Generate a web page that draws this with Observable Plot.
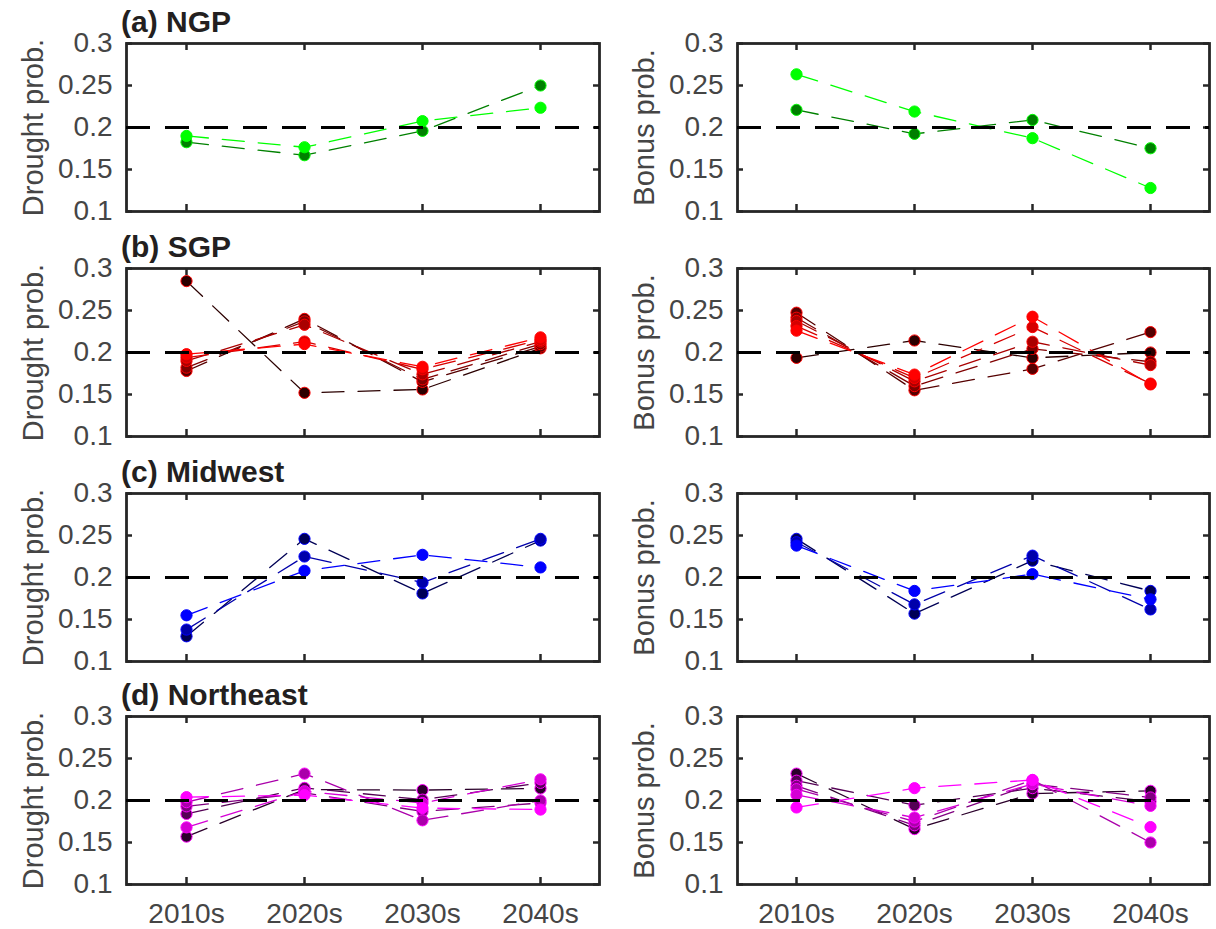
<!DOCTYPE html>
<html>
<head>
<meta charset="utf-8">
<script src="https://cdn.jsdelivr.net/npm/d3@7"></script>
<script src="https://cdn.jsdelivr.net/npm/@observablehq/plot@0.6"></script>
<style>
  html, body { margin: 0; padding: 0; background: #fff; }
  #chart { position: relative; width: 1216px; height: 929px; overflow: hidden; font-family: "Liberation Sans", Arial, Helvetica, sans-serif; }
  .panel { position: absolute; }
  .title { position: absolute; font-weight: bold; font-size: 30px; line-height: 30px; color: #231f20; white-space: nowrap; }
</style>
</head>
<body>
<div id="chart"></div>
<script>
// ---- data ----
const decades = ["2010s", "2020s", "2030s", "2040s"];
const yTicks = [0.1, 0.15, 0.2, 0.25, 0.3];
const yTickLabels = ["0.1", "0.15", "0.2", "0.25", "0.3"];
const regionTitles = ["(a) NGP", "(b) SGP", "(c) Midwest", "(d) Northeast"];
const columnLabels = ["Drought prob.", "Bonus prob."];
const referenceLevel = 0.2;

const ngpDrought = [
  [0.1825, 0.167, 0.196, 0.250],
  [0.190, 0.1765, 0.2076, 0.2235]
];
const ngpBonus = [
  [0.221, 0.1924, 0.209, 0.1753],
  [0.2633, 0.219, 0.1873, 0.128]
];
const sgpDrought = [
  [0.285, 0.152, 0.156, 0.205],
  [0.178, 0.240, 0.165, 0.207],
  [0.182, 0.237, 0.168, 0.210],
  [0.190, 0.233, 0.174, 0.213],
  [0.194, 0.213, 0.180, 0.215],
  [0.198, 0.210, 0.183, 0.218]
];
const sgpBonus = [
  [0.1936, 0.2143, 0.1936, 0.200],
  [0.2474, 0.155, 0.1805, 0.2243],
  [0.2414, 0.160, 0.2044, 0.189],
  [0.2375, 0.1657, 0.2128, 0.185],
  [0.2315, 0.1697, 0.2303, 0.163],
  [0.226, 0.1737, 0.2426, 0.162]
];
const midwestDrought = [
  [0.130, 0.246, 0.181, 0.244],
  [0.138, 0.225, 0.194, 0.246],
  [0.155, 0.208, 0.227, 0.212]
];
const midwestBonus = [
  [0.246, 0.157, 0.220, 0.184],
  [0.242, 0.168, 0.226, 0.162],
  [0.238, 0.184, 0.204, 0.174]
];
const northeastDrought = [
  [0.157, 0.213, 0.2124, 0.2144],
  [0.184, 0.215, 0.201, 0.221],
  [0.193, 0.209, 0.187, 0.197],
  [0.198, 0.232, 0.1764, 0.200],
  [0.168, 0.211, 0.197, 0.2252],
  [0.204, 0.2064, 0.191, 0.1892]
];
const northeastBonus = [
  [0.232, 0.166, 0.2083, 0.2115],
  [0.2236, 0.1944, 0.2147, 0.1988],
  [0.2175, 0.1705, 0.2196, 0.2036],
  [0.2135, 0.175, 0.2244, 0.150],
  [0.2067, 0.1797, 0.2196, 0.1936],
  [0.1917, 0.2147, 0.2244, 0.1684]
];

// ---- styling / layout ----
const regionHues = [[0, 255, 0], [255, 0, 0], [0, 0, 255], [255, 0, 255]];
const panelData = [
  [ngpDrought, ngpBonus],
  [sgpDrought, sgpBonus],
  [midwestDrought, midwestBonus],
  [northeastDrought, northeastBonus]
];
const boxTops = [43, 268, 493, 716];
const boxH = 168;
const font = '"Liberation Sans", Arial, Helvetica, sans-serif';
const axisColor = "#262626";
const textColor = "#454545";
const colGeom = [
  {left: 0, width: 608, marginLeft: 126, marginRight: 9},
  {left: 608, width: 608, marginLeft: 129, marginRight: 7}
];

function seriesColor(hue, i, n) {
  const f = (i + 1) / n;
  return `rgb(${Math.round(hue[0] * f)},${Math.round(hue[1] * f)},${Math.round(hue[2] * f)})`;
}

const chart = document.getElementById("chart");

panelData.forEach((row, r) => {
  const hue = regionHues[r];
  const hueStr = `rgb(${hue[0]},${hue[1]},${hue[2]})`;
  const isBottom = r === panelData.length - 1;
  row.forEach((series, c) => {
    const g = colGeom[c];
    const n = series.length;
    const rows = [];
    series.forEach((vals, s) => vals.forEach((v, k) => rows.push({decade: decades[k], value: v, series: s, color: seriesColor(hue, s, n)})));
    const marginTop = 14;
    const marginBottom = isBottom ? 45 : 14;
    const boxW = g.width - g.marginLeft - g.marginRight;
    const marks = [
      Plot.frame({stroke: axisColor, strokeWidth: 2.8}),
      Plot.tickX(decades, {x: d => d, insetTop: boxH - 7, stroke: axisColor, strokeWidth: 2.5}),
      Plot.tickX(decades, {x: d => d, insetBottom: boxH - 7, stroke: axisColor, strokeWidth: 2.5}),
      Plot.tickY(yTicks, {y: d => d, insetRight: boxW - 6, stroke: axisColor, strokeWidth: 2.5}),
      Plot.tickY(yTicks, {y: d => d, insetLeft: boxW - 6, stroke: axisColor, strokeWidth: 2.5}),
      Plot.axisY(yTicks, {tickSize: 0, tickPadding: 14, tickFormat: d => yTickLabels[yTicks.indexOf(d)], fontSize: 28, color: textColor, label: null}),
      Plot.text([columnLabels[c]], {text: d => d, frameAnchor: "left", rotate: -90, dx: -93, textAnchor: "middle", lineAnchor: "middle", fontSize: 29, fill: textColor}),
      Plot.line(rows, {x: "decade", y: "value", z: "series", stroke: "color", strokeWidth: 1.3, strokeDasharray: "22,14"}),
      Plot.dot(rows, {x: "decade", y: "value", r: 5.6, fill: "color", stroke: hueStr, strokeWidth: 1}),
      Plot.ruleY([referenceLevel], {stroke: "#000", strokeWidth: 3, strokeDasharray: "24,15"})
    ];
    if (isBottom) {
      marks.push(Plot.axisX(decades, {tickSize: 0, tickPadding: 19, fontSize: 28, color: textColor, label: null}));
    }
    const svg = Plot.plot({
      width: g.width,
      height: marginTop + boxH + marginBottom,
      marginLeft: g.marginLeft,
      marginRight: g.marginRight,
      marginTop,
      marginBottom,
      x: {type: "point", domain: decades, padding: 0.5, label: null, axis: isBottom ? undefined : null},
      y: {domain: [0.1, 0.3], label: null},
      style: {fontFamily: font, background: "transparent", overflow: "visible"},
      marks
    });
    svg.classList.add("panel");
    svg.style.left = g.left + "px";
    svg.style.top = (boxTops[r] - marginTop) + "px";
    chart.appendChild(svg);
  });
  const t = document.createElement("div");
  t.className = "title";
  t.textContent = regionTitles[r];
  t.style.left = "121px";
  t.style.top = (boxTops[r] - 11 - 25.4) + "px";
  chart.appendChild(t);
});
</script>
</body>
</html>
